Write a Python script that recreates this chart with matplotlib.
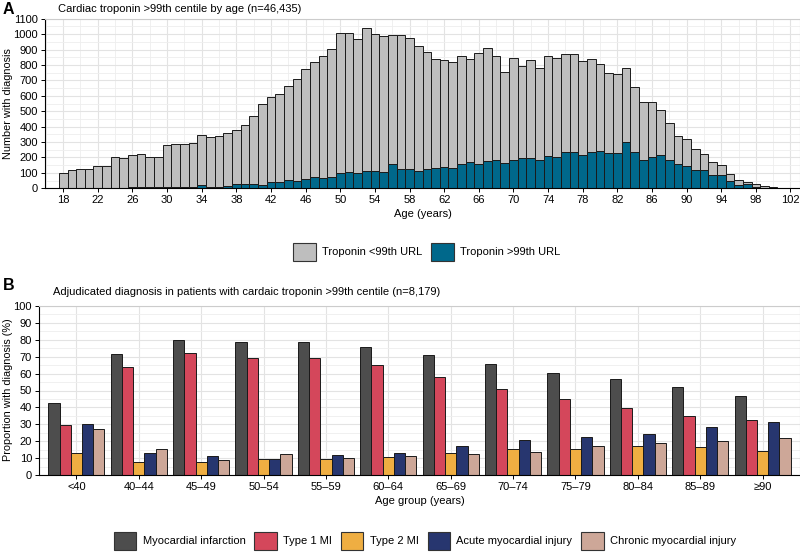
import matplotlib.pyplot as plt
import numpy as np
from matplotlib.patches import Patch
from matplotlib.ticker import MultipleLocator

plt.rcParams['font.family'] = ['Liberation Sans', 'DejaVu Sans']

# Panel A: number of patients by age (total and troponin >99th URL)
ages = np.arange(18, 103)
total = [100, 120, 128, 128, 145, 145, 205, 195, 217, 225, 205, 200,
         280, 288, 285, 296, 348, 330, 340, 358, 375, 413, 470, 550,
         595, 610, 665, 712, 773, 816, 857, 903, 1010, 1005, 968, 1040,
         1002, 989, 993, 993, 972, 926, 883, 838, 829, 820, 861, 838,
         879, 909, 859, 753, 844, 794, 833, 779, 861, 844, 870, 868,
         827, 838, 805, 749, 740, 781, 654, 561, 561, 506, 426, 338,
         318, 253, 225, 169, 154, 95, 56, 41, 26, 15, 10, 5, 2]
above = [2, 3, 5, 4, 4, 5, 5, 5, 10, 8, 7, 6,
         8, 10, 8, 10, 19, 9, 11, 13, 26, 26, 26, 22,
         40, 40, 54, 50, 61, 71, 67, 74, 97, 104, 100, 110,
         110, 106, 158, 123, 128, 113, 123, 134, 136, 132, 158, 171,
         158, 175, 182, 162, 184, 197, 195, 184, 210, 203, 234, 234,
         219, 236, 242, 227, 229, 301, 238, 184, 203, 214, 184, 158,
         145, 117, 119, 87, 87, 50, 24, 26, 6, 3, 2, 1, 0]
below = [t - a for t, a in zip(total, above)]

# Panel B: adjudicated diagnosis by age group (%)
groups = ['<40', '40–44', '45–49', '50–54', '55–59', '60–64', '65–69',
          '70–74', '75–79', '80–84', '85–89', '≥90']
mi = [42.6, 71.6, 79.7, 78.5, 78.5, 75.9, 71.0, 65.9, 60.4, 56.8, 51.9, 46.7]
type1 = [29.6, 63.9, 72.2, 69.2, 69.0, 65.1, 58.2, 50.7, 45.0, 39.4, 34.7, 32.7]
type2 = [12.8, 7.7, 7.5, 9.5, 9.5, 10.7, 12.8, 15.2, 15.2, 17.4, 16.6, 14.0]
acute = [30.2, 13.0, 11.4, 9.5, 11.8, 13.2, 17.0, 20.7, 22.5, 24.5, 28.2, 31.4]
chronic = [27.4, 15.4, 8.9, 12.2, 9.9, 11.0, 12.2, 13.6, 17.2, 19.1, 20.3, 22.1]
diag_names = ['Myocardial infarction', 'Type 1 MI', 'Type 2 MI',
              'Acute myocardial injury', 'Chronic myocardial injury']
diag_colors = ['#4d4d4d', '#d4475b', '#efae42', '#27366f', '#cda798']

GRID = '#e3e3e3'
FS = 8


def style(ax):
    ax.set_axisbelow(True)
    ax.grid(which='major', color=GRID, lw=0.8)
    ax.grid(which='minor', color='#eeeeee', lw=0.6)
    for s in ['top', 'right']:
        ax.spines[s].set_color('#cccccc')
        ax.spines[s].set_linewidth(0.8)
    for s in ['left', 'bottom']:
        ax.spines[s].set_color('black')
        ax.spines[s].set_linewidth(0.8)
    ax.tick_params(which='major', length=3, width=0.7, labelsize=FS, pad=2)
    ax.tick_params(which='minor', length=0)


fig = plt.figure(figsize=(8, 5.53), dpi=100)

# ---- panel A
axA = fig.add_axes([45 / 800, 1 - 188.3 / 553, 755 / 800, 169.6 / 553])
axA.bar(ages, above, width=1, color='#00688b', edgecolor='#1a1a1a', lw=0.7)
axA.bar(ages, below, bottom=above, width=1, color='#bebebe',
        edgecolor='#1a1a1a', lw=0.7)
axA.set_xlim(15.9, 103.1)
axA.set_ylim(0, 1100)
axA.set_xticks(np.arange(18, 103, 4))
axA.xaxis.set_minor_locator(MultipleLocator(2))
axA.set_yticks(np.arange(0, 1101, 100))
axA.yaxis.set_minor_locator(MultipleLocator(50))
style(axA)
axA.set_xlabel('Age (years)', fontsize=FS, labelpad=3)
fig.text(8 / 800, 1 - 104 / 553, 'Number with diagnosis', fontsize=7.8,
         rotation=90, ha='center', va='center')
fig.text(58 / 800, 1 - 9 / 553, 'Cardiac troponin >99th centile by age (n=46,435)',
         fontsize=FS, va='center', ha='left')
fig.text(3 / 800, 1 - 10 / 553, 'A', fontsize=11.5, fontweight='bold',
         va='center', ha='left')
handlesA = [Patch(facecolor='#bebebe', edgecolor='#333333', lw=0.8,
                  label='Troponin <99th URL'),
            Patch(facecolor='#00688b', edgecolor='#333333', lw=0.8,
                  label='Troponin >99th URL')]
fig.legend(handles=handlesA, loc='center', bbox_to_anchor=(427 / 800, 1 - 252 / 553),
           ncol=2, frameon=False, fontsize=FS, handlelength=2.0,
           handleheight=2.2, handletextpad=0.6, columnspacing=0.8)

# ---- panel B
axB = fig.add_axes([39 / 800, 1 - 475 / 553, 761 / 800, 169 / 553])
x = np.arange(len(groups))
w = 0.18
series = [mi, type1, type2, acute, chronic]
for k, (vals, col, name) in enumerate(zip(series, diag_colors, diag_names)):
    axB.bar(x + (k - 2) * w, vals, width=w, color=col, edgecolor='#1a1a1a',
            lw=0.7, label=name)
axB.set_xlim(-0.6, len(groups) - 0.4)
axB.set_ylim(0, 100)
axB.set_xticks(x)
axB.set_xticklabels(groups)
axB.set_yticks(np.arange(0, 101, 10))
axB.yaxis.set_minor_locator(MultipleLocator(5))
style(axB)
axB.set_xlabel('Age group (years)', fontsize=FS, labelpad=3)
fig.text(8 / 800, 1 - 390 / 553, 'Proportion with diagnosis (%)', fontsize=7.8,
         rotation=90, ha='center', va='center')
fig.text(53 / 800, 1 - 292 / 553,
         'Adjudicated diagnosis in patients with cardaic troponin >99th centile (n=8,179)',
         fontsize=FS, va='center', ha='left')
fig.text(3 / 800, 1 - 285 / 553, 'B', fontsize=11.5, fontweight='bold',
         va='center', ha='left')
handlesB = [Patch(facecolor=c, edgecolor='#333333', lw=0.8, label=n)
            for c, n in zip(diag_colors, diag_names)]
fig.legend(handles=handlesB, loc='center', bbox_to_anchor=(425 / 800, 1 - 541 / 553),
           ncol=5, frameon=False, fontsize=FS, handlelength=2.0,
           handleheight=2.2, handletextpad=0.6, columnspacing=0.8)

fig.savefig('out.png', dpi=100)
